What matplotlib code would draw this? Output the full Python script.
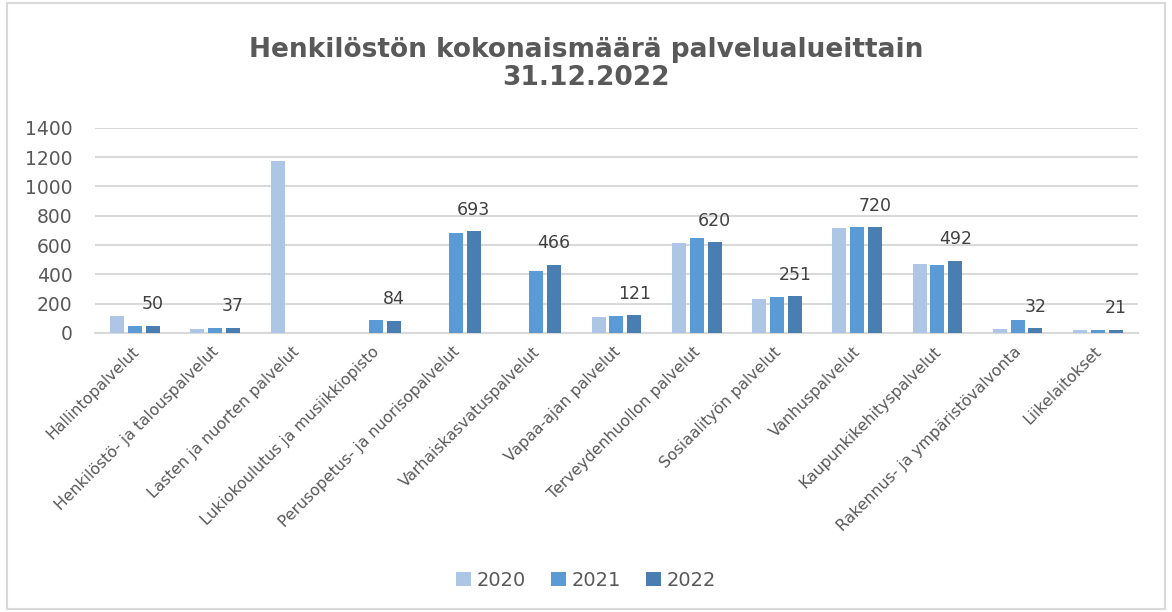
import numpy as np
import matplotlib.pyplot as plt
import matplotlib.transforms as mtransforms
from matplotlib.patches import Rectangle

categories = ["Hallintopalvelut", "Henkilöstö- ja talouspalvelut",
              "Lasten ja nuorten palvelut", "Lukiokoulutus ja musiikkiopisto",
              "Perusopetus- ja nuorisopalvelut", "Varhaiskasvatuspalvelut",
              "Vapaa-ajan palvelut", "Terveydenhuollon palvelut",
              "Sosiaalityön palvelut", "Vanhuspalvelut",
              "Kaupunkikehityspalvelut", "Rakennus- ja ympäristövalvonta",
              "Liikelaitokset"]
years = ["2020", "2021", "2022"]
nan = np.nan
v2020 = [115, 30, 1175, nan, nan, nan,111, 612, 232, 719, 471, 30, 22]
v2021 = [50, 35, nan, 89, 685, 421, 115, 647, 244, 724, 462, 89, 21]
v2022 = [50, 37, nan, 84, 693, 466, 121, 620, 251, 720, 492, 32, 21]
colors = ["#AEC6E6", "#5B9BD5", "#4A7EB0"]

text_col = "#595959"
plt.rcParams['font.family'] = ['DejaVu Sans']

fig = plt.figure(figsize=(11.72, 6.12), dpi=100)
fig.patches.append(Rectangle((0.006, 0.005), 0.988, 0.99, transform=fig.transFigure,
                             fill=False, edgecolor="#D9D9D9", linewidth=1.5))
ax = fig.add_axes([0.081, 0.456, 0.890, 0.335])

x = np.arange(len(categories))
w = 0.175
step = 0.222
for i, vals in enumerate([v2020, v2021, v2022]):
    bars = ax.bar(x + (i - 1) * step, vals, w, color=colors[i], label=years[i], zorder=3)
for b, v in zip(bars, v2022):
    if np.isnan(v):
        continue
    ax.annotate(str(int(v)), (b.get_x() + b.get_width() / 2, v), xytext=(0, 9),
                textcoords="offset points", ha="center", va="bottom",
                fontsize=12.5, color="#404040")

ax.set_xlim(-0.5, len(categories) - 0.5)
ax.set_ylim(0, 1400)
ax.set_yticks(range(0, 1401, 200))
ax.yaxis.grid(True, color="#D9D9D9", linewidth=1.5, zorder=0)
ax.set_axisbelow(True)
for s in ["top", "right", "left"]:
    ax.spines[s].set_visible(False)
ax.spines["bottom"].set_color("#D9D9D9")
ax.spines["bottom"].set_linewidth(1.5)
ax.tick_params(axis="both", length=0, colors=text_col)
ax.tick_params(axis="y", labelsize=13.5, pad=16)
ax.set_xticks(x)
ax.set_xticklabels(categories, rotation=45, ha="right", rotation_mode="anchor",
                   fontsize=11.3, color=text_col)
ax.tick_params(axis="x", pad=8)
shift = mtransforms.ScaledTranslation(-4 / 100, 0, fig.dpi_scale_trans)
for lab in ax.get_xticklabels():
    lab.set_transform(lab.get_transform() + shift)

fig.suptitle("Henkilöstön kokonaismäärä palvelualueittain\n31.12.2022",
             x=0.5, y=0.94, fontsize=19, fontweight="bold", color=text_col,
             linespacing=1.1)

fig.legend(loc="center", bbox_to_anchor=(0.5, 0.052), ncol=3, frameon=False,
           fontsize=14, handlelength=0.75, handleheight=0.75, columnspacing=1.3,
           handletextpad=0.3, labelcolor=text_col)

fig.savefig("out.png", dpi=100)
